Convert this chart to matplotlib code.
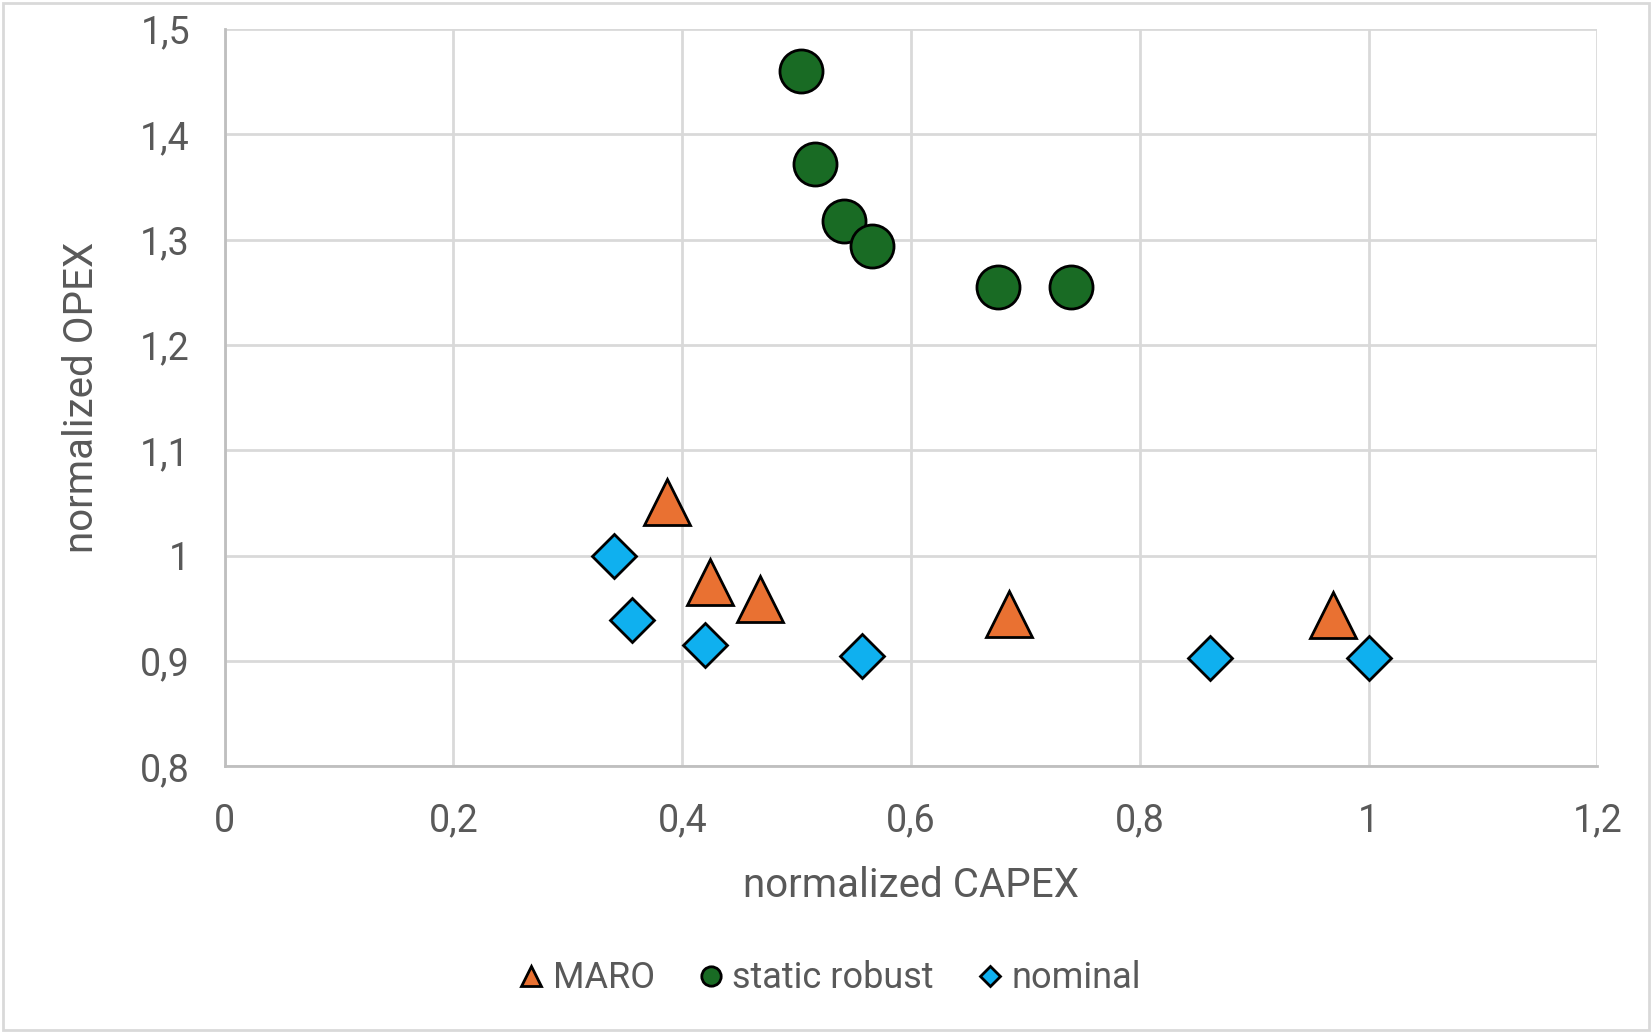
import matplotlib
matplotlib.use("Agg")
from matplotlib import pyplot as plt
from matplotlib.ticker import FuncFormatter
from matplotlib.patches import Rectangle

# data
maro_x = [0.387, 0.424, 0.468, 0.686, 0.969]
maro_y = [1.051, 0.975, 0.959, 0.945, 0.944]

robust_x = [0.504, 0.516, 0.541, 0.566, 0.676, 0.740]
robust_y = [1.460, 1.372, 1.318, 1.294, 1.255, 1.255]

nominal_x = [0.340, 0.356, 0.420, 0.557, 0.861, 1.000]
nominal_y = [1.000, 0.939, 0.915, 0.905, 0.903, 0.903]

x_ticks = [0, 0.2, 0.4, 0.6, 0.8, 1.0, 1.2]
y_ticks = [0.8, 0.9, 1.0, 1.1, 1.2, 1.3, 1.4, 1.5]

plt.rcParams['font.family'] = ['Roboto', 'DejaVu Sans']
txt = '#595959'

fig = plt.figure(figsize=(16.52, 10.33), dpi=100)
ax = fig.add_axes([0.136, 0.258, 0.831, 0.714])

ax.plot(maro_x, maro_y, '^', ms=33, color='#e97132', mec='black', mew=2, label='MARO', zorder=3)
ax.plot(robust_x, robust_y, 'o', ms=31, color='#196b24', mec='black', mew=2, label='static robust', zorder=3)
ax.plot(nominal_x, nominal_y, 'D', ms=22, color='#0fb0ef', mec='black', mew=2, label='nominal', zorder=3)

ax.set_xlim(0, 1.2)
ax.set_ylim(0.8, 1.5)
ax.set_xticks(x_ticks)
ax.set_yticks(y_ticks)

def comma(v, pos):
    s = ('%.1f' % v).rstrip('0').rstrip('.')
    return s.replace('.', ',')

ax.xaxis.set_major_formatter(FuncFormatter(comma))
ax.yaxis.set_major_formatter(FuncFormatter(comma))

ax.grid(True, color='#d9d9d9', lw=2)
ax.set_axisbelow(True)
for s in ['top', 'right']:
    ax.spines[s].set_visible(False)
for s in ['left', 'bottom']:
    ax.spines[s].set_color('#bfbfbf')
    ax.spines[s].set_linewidth(2)
ax.tick_params(length=0, labelsize=27, colors=txt)
ax.tick_params(axis='x', pad=26)
ax.tick_params(axis='y', pad=25)

ax.set_xlabel('normalized CAPEX', fontsize=29, color=txt, labelpad=19)
ax.set_ylabel('normalized OPEX', fontsize=29, color=txt, labelpad=28)

leg = fig.legend(loc='center', bbox_to_anchor=(0.5, 0.053), ncol=3, frameon=False,
                 fontsize=26, markerscale=0.45, handletextpad=0.05, columnspacing=1.0,
                 handlelength=1.1)
for t in leg.get_texts():
    t.set_color(txt)

fig.patches.append(Rectangle((0.002, 0.003), 0.996, 0.994, transform=fig.transFigure,
                             fill=False, edgecolor='#d9d9d9', lw=2))

plt.savefig('out.png', dpi=100)
